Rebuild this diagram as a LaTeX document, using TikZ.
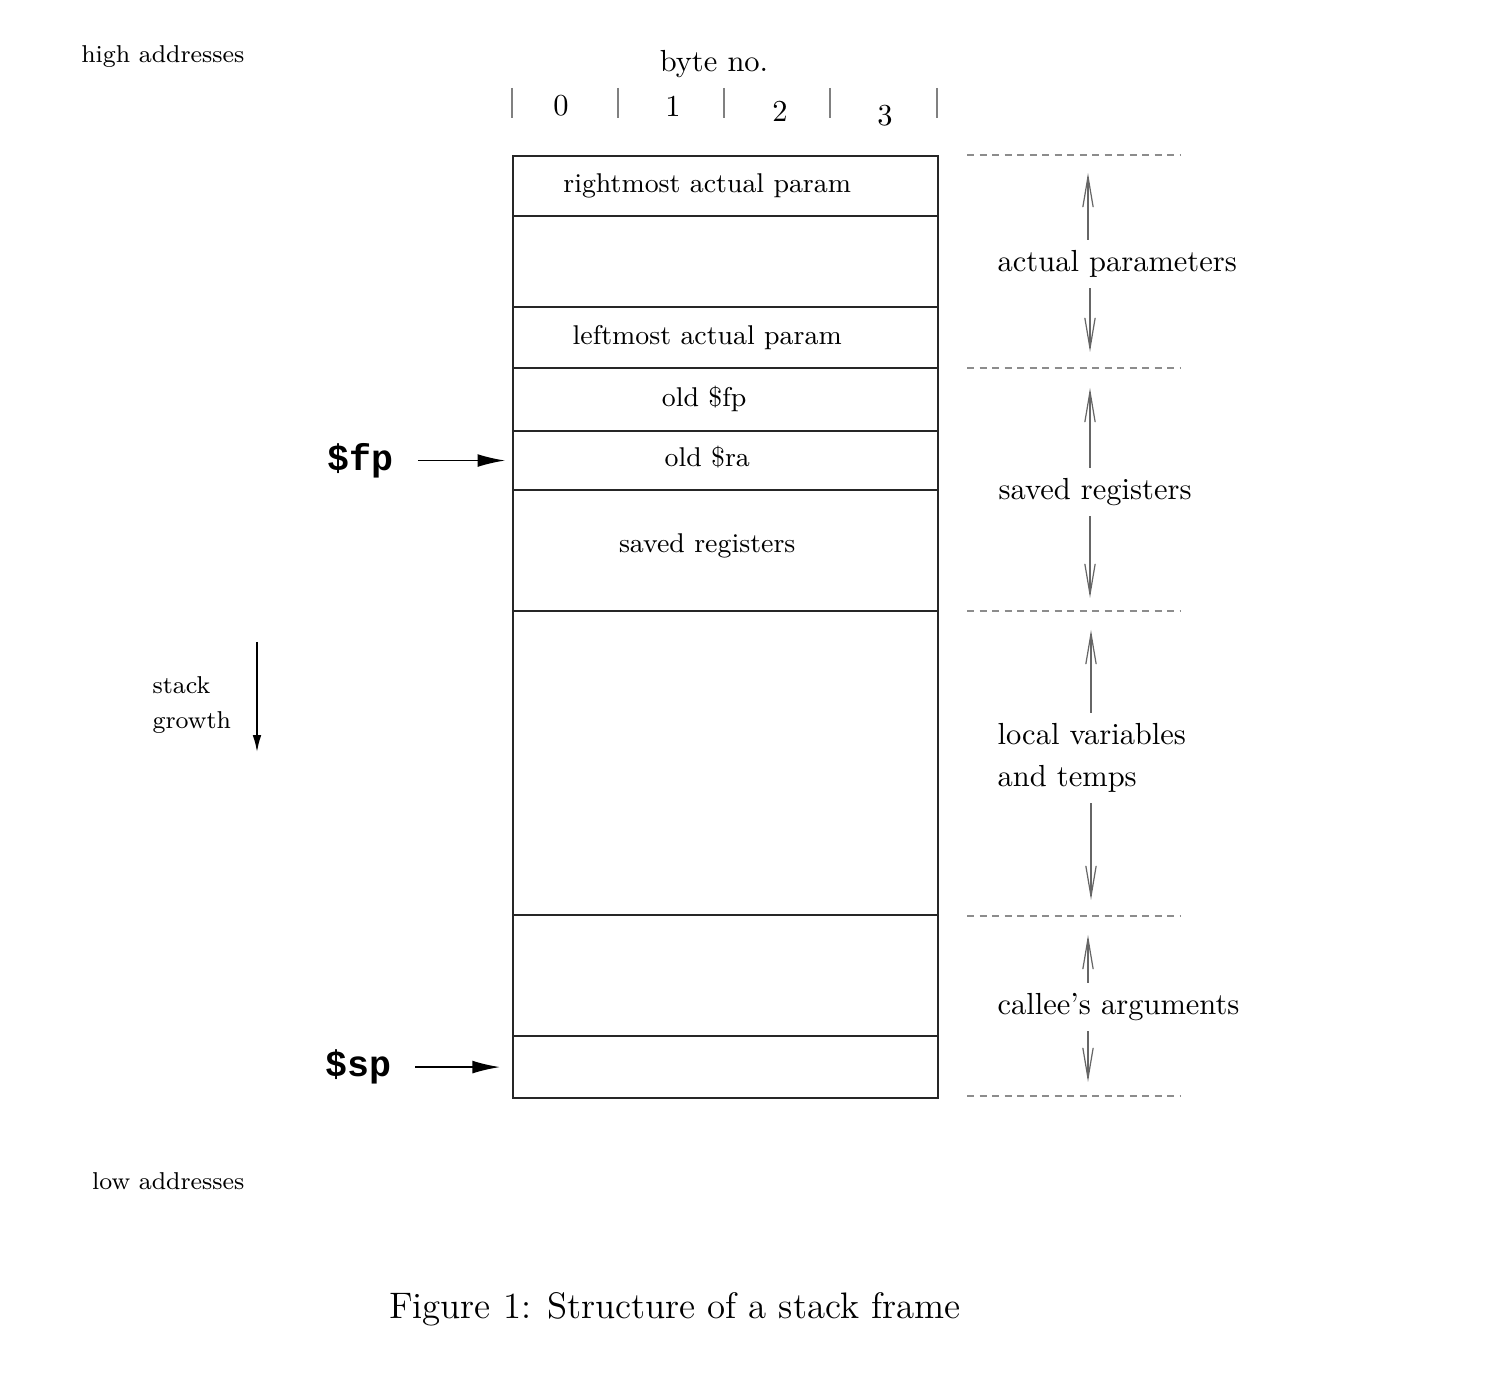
\documentclass[tikz,border=0pt]{standalone}
\usepackage{fontspec}
\usepackage{tikz}
\usetikzlibrary{arrows.meta, positioning}
\newfontfamily\regfont{Liberation Mono}
\tikzset{
  %% Stack slot
  slot/.style={
    rectangle, draw=black!85, fill=white,
    minimum width=139.4pt, minimum height=#1,
    outer sep=0pt, inner sep=0pt, line width=0.45pt
  },
  slot/.default=20pt,
  %% Text inside a slot
  slottext/.style={font=\fontsize{8.9}{11}\selectfont, xshift=-6pt},
  %% Region label on the right
  region/.style={
    align=left, anchor=west, inner sep=3.3pt,
    font=\fontsize{10}{13.8}\selectfont
  },
  %% Small margin note
  note/.style={font=\fontsize{8}{11.5}\selectfont, inner sep=0pt},
  %% Register name
  reg/.style={font=\regfont\bfseries\fontsize{12}{14}\selectfont},
  %% Arrows
  parr/.style={-{Latex[length=9pt,width=4.2pt]},
               draw=black, line width=0.5pt},
  garr/.style={-{Latex[length=5.5pt,width=2.8pt]},
               draw=black, line width=0.5pt},
  sarr/.style={-{Straight Barb[length=10pt,width=3.4pt]},
               draw=black!60, line width=0.4pt},
  %% Separators and ruler
  sep/.style={draw=black!45, dash pattern=on 2.3pt off 1.8pt,
              line width=0.4pt},
  tick/.style={draw=black!50, line width=0.4pt},
}

\begin{document}
\begin{tikzpicture}[x=0.328pt, y=-0.328pt]
  \useasboundingbox (0,0) rectangle (1490,1386);

  %% stack frame
  \node[slot=19.7pt] (rparam) at (725.5,186) {};
  \node[slot=29.8pt, below=0pt of rparam] (mid) {};
  \node[slot=20pt, below=0pt of mid] (lparam) {};
  \node[slot=20.7pt, below=0pt of lparam] (oldfp) {};
  \node[slot=19.4pt, below=0pt of oldfp] (oldra) {};
  \node[slot=39.7pt, below=0pt of oldra] (savreg) {};
  \node[slot=99.7pt, below=0pt of savreg] (locals) {};
  \node[slot=39.7pt, below=0pt of locals] (callee) {};
  \node[slot=20.3pt, below=0pt of callee] (spslot) {};

  \node[slottext] (rparamT) at (rparam) {rightmost actual param};
  \node[slottext] (lparamT) at (lparam) {leftmost actual param};
  \node[slottext, xshift=-1pt] (oldfpT) at (oldfp) {old \$fp};
  \node[slottext, yshift=1pt] (oldraT) at (oldra) {old \$ra};
  \node[slottext, yshift=1.6pt] (savregT) at (savreg) {saved registers};

  %% byte ruler
  \node (byteno) at (714,64) {byte no.};
  \foreach \x [count=\i] in {512,618,724,830,937} {
    \coordinate (t\i) at (\x,88);
    \coordinate (b\i) at (\x,118);
    \draw[tick] (t\i) -- (b\i);
  }
  \foreach \d/\x/\y in {0/561/106, 1/673/106, 2/780/111, 3/885/116}
    \node (d\d) at (\x,\y) {\d};

  %% region separators
  \foreach \y [count=\i] in {155,368,611,916,1096} {
    \coordinate (dl\i) at (967,\y);
    \coordinate (dr\i) at (1181,\y);
    \draw[sep] (dl\i) -- (dr\i);
  }

  %% regions
  \node[region] (apar) at (987,264) {actual parameters};
  \coordinate (aparU) at (1088,173);
  \coordinate (aparD) at (1090,352);
  \draw[sarr] (apar.north -| aparU) -- (aparU);
  \draw[sarr] (apar.south -| aparD) -- (aparD);

  \node[region] (sreg) at (988,492) {saved registers};
  \coordinate (sregU) at (1090,388);
  \coordinate (sregD) at (1090,598);
  \draw[sarr] (sreg.north -| sregU) -- (sregU);
  \draw[sarr] (sreg.south -| sregD) -- (sregD);

  \node[region] (lvar) at (987,758) {local variables\\and temps};
  \coordinate (lvarU) at (1091,630);
  \coordinate (lvarD) at (1091,900);
  \draw[sarr] (lvar.north -| lvarU) -- (lvarU);
  \draw[sarr] (lvar.south -| lvarD) -- (lvarD);

  \node[region] (carg) at (987,1007) {callee's arguments};
  \coordinate (cargU) at (1088,935);
  \coordinate (cargD) at (1088,1082);
  \draw[sarr] (carg.north -| cargU) -- (cargU);
  \draw[sarr] (carg.south -| cargD) -- (cargD);

  %% frame and stack pointers
  \node[reg, left=35.8pt of oldra] (fp) {\$fp};
  \draw[parr] ([xshift=4.6pt]fp.east) -- ([xshift=-2.6pt]oldra.west);
  \node[reg, left=36.4pt of spslot] (sp) {\$sp};
  \draw[parr] ([xshift=4.3pt]sp.east) -- ([xshift=-4.3pt]spslot.west);

  %% growth direction
  \coordinate (gtop) at (257,642);
  \coordinate (gbot) at (257,752);
  \draw[garr] (gtop) -- (gbot);
  \node[note, align=left, anchor=west] (growth) at (152,705)
       {stack\\growth};

  \node[note, anchor=east] (high) at (245,57) {high addresses};
  \node[note, anchor=east] (low) at (245,1181) {low addresses};

  %% caption
  \node[font=\fontsize{12.1}{14}\selectfont] (caption) at (675,1309)
       {Figure 1: Structure of a stack frame};

\end{tikzpicture}
\end{document}
